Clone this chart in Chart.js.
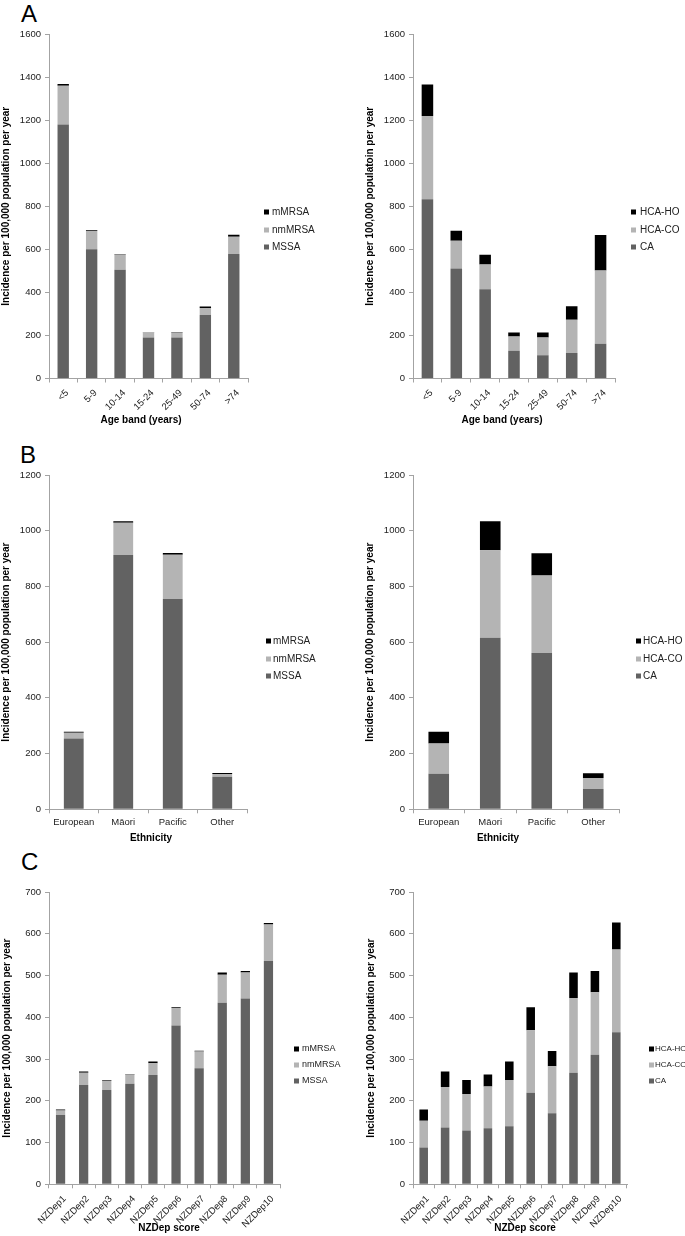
<!DOCTYPE html>
<html>
<head>
<meta charset="utf-8">
<script src="https://cdn.jsdelivr.net/npm/chart.js@4.4.1/dist/chart.umd.min.js"></script>
<style>
  body { margin: 0; background: #fff; width: 685px; height: 1236px; position: relative; overflow: hidden; font-family: "Liberation Sans", Arial, sans-serif; }
  canvas { position: absolute; }
  .letter { position: absolute; font-size: 24px; line-height: 24px; color: #000; }
</style>
</head>
<body>
<div class="letter" style="left:21px;top:2px">A</div>
<div class="letter" style="left:20px;top:443px">B</div>
<div class="letter" style="left:21px;top:850px">C</div>

<canvas id="ageType" width="360" height="432" style="left:0;top:0"></canvas>
<canvas id="ageOnset" width="345" height="432" style="left:340px;top:0"></canvas>
<canvas id="ethType" width="360" height="413" style="left:0;top:432px"></canvas>
<canvas id="ethOnset" width="345" height="413" style="left:340px;top:432px"></canvas>
<canvas id="depType" width="360" height="391" style="left:0;top:845px"></canvas>
<canvas id="depOnset" width="345" height="391" style="left:340px;top:845px"></canvas>

<script>
// categories
const ageBands = ['<5', '5-9', '10-14', '15-24', '25-49', '50-74', '>74'];
const ethnicities = ['European', 'Māori', 'Pacific', 'Other'];
const nzdep = ['NZDep1', 'NZDep2', 'NZDep3', 'NZDep4', 'NZDep5', 'NZDep6', 'NZDep7', 'NZDep8', 'NZDep9', 'NZDep10'];

const typeNames = ['MSSA', 'nmMRSA', 'mMRSA'];
const onsetNames = ['CA', 'HCA-CO', 'HCA-HO'];

// A: age band
const ageMSSA = [1180, 600, 505, 190, 190, 295, 578];
const ageNmMRSA = [180, 85, 70, 25, 22, 32, 80];
const ageMMRSA = [8, 3, 2, 1, 3, 7, 10];
const ageCA = [832, 511, 414, 129, 108, 119, 161];
const ageHcaCO = [387, 129, 116, 66, 82, 154, 341];
const ageHcaHO = [147, 46, 45, 19, 24, 62, 164];

// B: ethnicity
const ethMSSA = [254, 913, 755, 117];
const ethNmMRSA = [21, 116, 159, 10];
const ethMMRSA = [3, 5, 6, 3];
const ethCA = [128, 616, 561, 73];
const ethHcaCO = [108, 314, 278, 39];
const ethHcaHO = [42, 104, 80, 17];

// C: NZDep score
const depMSSA = [166, 238, 226, 241, 262, 380, 278, 435, 445, 535];
const depNmMRSA = [11, 29, 22, 22, 28, 42, 40, 67, 62, 87];
const depMMRSA = [2, 3, 2, 1, 4, 2, 2, 5, 4, 4];
const depCA = [88, 136, 129, 134, 139, 219, 170, 267, 310, 364];
const depHcaCO = [64, 97, 87, 100, 111, 150, 113, 179, 150, 198];
const depHcaHO = [27, 37, 34, 29, 44, 55, 36, 61, 51, 65];

const COLORS = ['#626262', '#b4b4b4', '#000000'];
const AXIS = '#a3a3a3';
const FONT = '"Liberation Sans", Arial, sans-serif';

// legend + x title drawn at fixed spots (Excel puts them a bit off-centre)
const boxLegend = {
  id: 'boxLegend',
  afterDraw(chart, args, opts) {
    const ctx = chart.ctx;
    const sets = chart.data.datasets.slice().reverse();
    ctx.save();
    ctx.font = opts.size + 'px ' + FONT;
    ctx.textBaseline = 'middle';
    ctx.textAlign = 'left';
    sets.forEach((ds, i) => {
      const y = opts.ys[i];
      ctx.fillStyle = ds.backgroundColor;
      ctx.fillRect(opts.boxX, y - 2.5, 5, 5);
      ctx.fillStyle = '#222';
      ctx.fillText(ds.label, opts.textX, y);
    });
    // x axis title
    ctx.font = 'bold 10px ' + FONT;
    ctx.textAlign = 'center';
    ctx.fillStyle = '#000';
    ctx.fillText(opts.xTitle, opts.xTitleX, opts.xTitleY);
    ctx.restore();
  }
};

function makeChart(id, labels, series, names, g) {
  const canvas = document.getElementById(id);
  const half = 6; // half of title line height (10px * 1.2)
  const padLeft = g.yTitleX - half;
  const yWidth = g.l - padLeft;
  const xHeight = g.xTitleY + half - g.b;
  const padBottom = canvas.height - g.b - xHeight;
  g.legend.xTitle = g.xTitle;
  g.legend.xTitleX = g.xTitleX;
  g.legend.xTitleY = g.xTitleY;

  new Chart(canvas, {
    type: 'bar',
    data: {
      labels: labels,
      datasets: series.map((d, i) => ({
        label: names[i],
        data: d,
        backgroundColor: COLORS[i],
        borderWidth: 0,
        barPercentage: 0.4,
        categoryPercentage: 1
      }))
    },
    options: {
      responsive: false,
      animation: false,
      layout: { padding: { left: padLeft, right: canvas.width - g.r, top: g.t, bottom: padBottom } },
      plugins: {
        legend: { display: false },
        tooltip: { enabled: false },
        boxLegend: g.legend
      },
      scales: {
        x: {
          stacked: true,
          grid: { drawOnChartArea: false, drawTicks: true, tickLength: 4, color: AXIS, offset: true },
          border: { color: AXIS },
          ticks: {
            autoSkip: false,
            minRotation: g.rot, maxRotation: g.rot,
            padding: g.rot ? 5 : 3,
            labelOffset: g.rot ? 4 : 0,
            color: '#222',
            font: { family: FONT, size: 9.5 }
          },
          afterFit: s => { s.height = xHeight; }
        },
        y: {
          stacked: true,
          min: 0, max: g.max,
          grid: { drawOnChartArea: false, drawTicks: true, tickLength: 4, color: AXIS },
          border: { color: AXIS },
          ticks: { stepSize: g.step, padding: 4, color: '#222', font: { family: FONT, size: 9.5 }, callback: v => String(v) },
          title: { display: true, text: g.yTitle, color: '#000', padding: 0, font: { family: FONT, size: 10, weight: 'bold' } },
          afterFit: s => { s.width = yWidth; }
        }
      }
    },
    plugins: [boxLegend]
  });
}

const popTitle = 'Incidence per 100,000 population per year';

makeChart('ageType', ageBands, [ageMSSA, ageNmMRSA, ageMMRSA], typeNames, {
  l: 49, r: 248, t: 34, b: 378.5, yTitleX: 6.5, xTitleX: 141, xTitleY: 420, rot: 45, max: 1600, step: 200,
  xTitle: 'Age band (years)', yTitle: popTitle,
  legend: { size: 10, boxX: 264, textX: 272, ys: [212, 230, 247] }
});
makeChart('ageOnset', ageBands, [ageCA, ageHcaCO, ageHcaHO], onsetNames, {
  l: 73, r: 275, t: 34, b: 378.5, yTitleX: 30, xTitleX: 162, xTitleY: 420, rot: 45, max: 1600, step: 200,
  xTitle: 'Age band (years)', yTitle: 'Incidence per 100,000 populatoin per year',
  legend: { size: 10, boxX: 291, textX: 300, ys: [212, 230, 247] }
});
makeChart('ethType', ethnicities, [ethMSSA, ethNmMRSA, ethMMRSA], typeNames, {
  l: 49, r: 247, t: 43, b: 377.3, yTitleX: 6, xTitleX: 151, xTitleY: 406, rot: 0, max: 1200, step: 200,
  xTitle: 'Ethnicity', yTitle: popTitle,
  legend: { size: 10, boxX: 266, textX: 273, ys: [209, 227, 244] }
});
makeChart('ethOnset', ethnicities, [ethCA, ethHcaCO, ethHcaHO], onsetNames, {
  l: 73, r: 279, t: 43, b: 377.3, yTitleX: 30, xTitleX: 158, xTitleY: 406, rot: 0, max: 1200, step: 200,
  xTitle: 'Ethnicity', yTitle: popTitle,
  legend: { size: 10, boxX: 296, textX: 303, ys: [209, 227, 244] }
});
makeChart('depType', nzdep, [depMSSA, depNmMRSA, depMMRSA], typeNames, {
  l: 49, r: 280, t: 47, b: 339.3, yTitleX: 7, xTitleX: 169, xTitleY: 383, rot: 45, max: 700, step: 100,
  xTitle: 'NZDep score', yTitle: popTitle,
  legend: { size: 9, boxX: 294, textX: 302, ys: [204, 220, 236] }
});
makeChart('depOnset', nzdep, [depCA, depHcaCO, depHcaHO], onsetNames, {
  l: 73, r: 287, t: 47, b: 339.3, yTitleX: 31, xTitleX: 185, xTitleY: 383, rot: 45, max: 700, step: 100,
  xTitle: 'NZDep score', yTitle: popTitle,
  legend: { size: 8, boxX: 309, textX: 315, ys: [204, 220, 236] }
});
</script>
</body>
</html>
